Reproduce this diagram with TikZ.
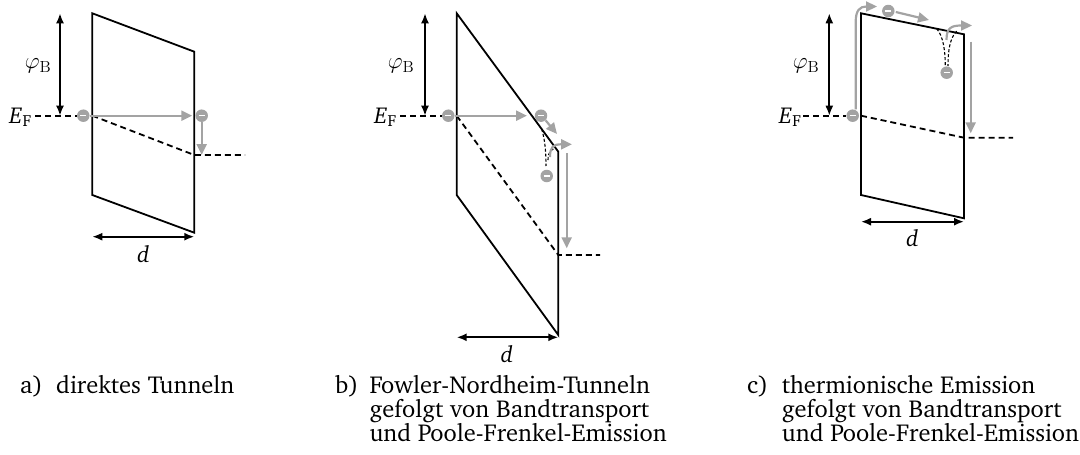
\RequirePackage{fix-cm}
\documentclass[tikz,border=0pt]{standalone}
\usepackage[T1]{fontenc}
\usepackage{charter}
\usetikzlibrary{arrows.meta}
\definecolor{egray}{RGB}{163,163,163}
\tikzset{
  bline/.style={black, line width=1.8pt, line join=miter},
  dline/.style={black, line width=1.8pt, dash pattern=on 6pt off 4pt},
  wline/.style={black, line width=1.1pt, dash pattern=on 3pt off 2pt},
  garrow/.style={egray, line width=2.2pt, -{Triangle[length=11pt,width=10pt]}},
  barrow/.style={black, line width=1.8pt, {Latex[length=10pt,width=8pt]}-{Latex[length=10pt,width=8pt]}},
  electron/.style={circle, fill=egray, minimum size=12.5pt, inner sep=0pt,
    path picture={\draw[white,line width=1.4pt]
      ([xshift=-3pt]path picture bounding box.center) --
      ([xshift=3pt]path picture bounding box.center);}},
  mlabel/.style={inner sep=0pt, font=\fontsize{23}{26}\selectfont},
  caption/.style={inner sep=0pt, anchor=base west, font=\fontsize{24.5}{24}\selectfont},
}
\newcommand{\EFlab}{\textit{E}\kern0.5pt\textsubscript{F}}
\begin{document}
\begin{tikzpicture}[x=1pt,y=-1pt]
\useasboundingbox (0,0) rectangle (1080,455);
% ---------------- panel a ----------------
\coordinate (a1) at (92.3,13.3);
\coordinate (a2) at (194.3,51.7);
\coordinate (a3) at (194.3,232.7);
\coordinate (a4) at (92.3,195);
\coordinate (aF) at (92.3,115.7);
\coordinate (aR) at (194.3,155);
\coordinate (aRe) at (245,155);
\coordinate (aLs) at (35,115.7);
\coordinate (aphT) at (60,13.3);
\coordinate (aphB) at (60,115.7);
\coordinate (adL) at (92.3,236.7);
\coordinate (adR) at (194.3,236.7);
\draw[bline] (a1) -- (a2) -- (a3) -- (a4) -- cycle;
\node[electron] (ea1) at (83.3,115.7) {};
\node[electron] (ea2) at (201.7,115.7) {};
\draw[dline] (aLs) -- (ea1.west);
\draw[dline] (aF) -- (aR) -- (aRe);
\draw[garrow] (ea1.east) -- ([xshift=-3pt]ea2.west);
\draw[garrow] (ea2.south) -- (ea2 |- aR);
\draw[barrow] (aphT) -- (aphB);
\draw[barrow] (adL) -- (adR);
\node[mlabel] (aphi) at (38,66) {$\varphi_{\mathrm{B}}$};
\node[mlabel, anchor=base east] (aEF) at (32,123) {\EFlab};
\node[mlabel, anchor=base] (ad) at (143.3,262) {\textit{d}};
% ---------------- panel b ----------------
\coordinate (b1) at (456.7,13.3);
\coordinate (b2) at (558.3,151.7);
\coordinate (b3) at (558.3,335);
\coordinate (b4) at (456.7,195);
\coordinate (bF) at (456.7,115.7);
\coordinate (bR) at (558.3,255);
\coordinate (bRe) at (600,255);
\coordinate (bLs) at (400,115.7);
\coordinate (bphT) at (425,13.3);
\coordinate (bphB) at (425,115.7);
\coordinate (bdL) at (456.7,337.3);
\coordinate (bdR) at (558.3,337.3);
\coordinate (bw1) at (541.7,129.1);
\coordinate (bw2) at (546,166);
\coordinate (bw3) at (548,160);
\coordinate (bw4) at (556,148.5);
\coordinate (bvT) at (566.7,153);
\coordinate (bvB) at (566.7,248.3);
\coordinate (bgS) at (550,157);
\coordinate (bgE) at (572,144.3);
\coordinate (bsE) at (557,134);
\draw[bline] (b1) -- (b2) -- (b3) -- (b4) -- cycle;
\node[electron] (eb1) at (448.3,115.7) {};
\node[electron] (eb2) at (541,115.7) {};
\node[electron] (eb3) at (546.7,176) {};
\draw[dline] (bLs) -- (eb1.west);
\draw[dline] (bF) -- (bR) -- (bRe);
\draw[garrow] (eb1.east) -- (527,115.7);
\draw[garrow] (eb2.south east) -- (bsE);
\draw[wline] (bw1) .. controls (545,140) and (546,152) .. (bw2);
\draw[wline] (bw3) .. controls (548,152) and (551,149) .. (bw4);
\draw[garrow] (bgS) .. controls (550,147) and (553,144.3) .. (bgE);
\draw[garrow] (bvT) -- (bvB);
\draw[barrow] (bphT) -- (bphB);
\draw[barrow] (bdL) -- (bdR);
\node[mlabel] (bphi) at (401,66) {$\varphi_{\mathrm{B}}$};
\node[mlabel, anchor=base east] (bEF) at (397,123) {\EFlab};
\node[mlabel, anchor=base] (bd) at (507,362.7) {\textit{d}};
% ---------------- panel c ----------------
\coordinate (c1) at (861,13.3);
\coordinate (c2) at (964,34.3);
\coordinate (c3) at (964,218.3);
\coordinate (c4) at (861,195);
\coordinate (cF) at (861,115.7);
\coordinate (cR) at (964,137.7);
\coordinate (cRe) at (1013,137.7);
\coordinate (cLs) at (803,115.7);
\coordinate (cphT) at (829.3,13.3);
\coordinate (cphB) at (829.3,115.7);
\coordinate (cdL) at (861,221.7);
\coordinate (cdR) at (964,221.7);
\coordinate (cw1) at (936.7,28.7);
\coordinate (cw2) at (945.3,66);
\coordinate (cw3) at (956.7,31.1);
\coordinate (cw4) at (948,66);
\coordinate (cuT) at (877,6.5);
\coordinate (cvT) at (970.7,41.7);
\coordinate (cvB) at (970.7,133.3);
\coordinate (ctE) at (929,20);
\coordinate (cgS) at (946.5,40);
\coordinate (cgE) at (972,25.5);
\draw[bline] (c1) -- (c2) -- (c3) -- (c4) -- cycle;
\node[electron] (ec1) at (852.7,115.7) {};
\node[electron] (ec2) at (888.3,11) {};
\node[electron] (ec3) at (946.7,72.7) {};
\draw[dline] (cLs) -- (ec1.west);
\draw[dline] (cF) -- (cR) -- (cRe);
\draw[garrow] ([xshift=3pt]ec1.north) -- (855.7,22) .. controls (855.7,10) and (860,6.5) .. (cuT);
\draw[garrow] ([xshift=1pt,yshift=-1pt]ec2.east) -- (ctE);
\draw[wline] (cw1) .. controls (943,36) and (945.3,50) .. (cw2);
\draw[wline] (cw3) .. controls (950,38) and (948,50) .. (cw4);
\draw[garrow] (cgS) .. controls (946.5,28) and (951,25.5) .. (cgE);
\draw[garrow] (cvT) -- (cvB);
\draw[barrow] (cphT) -- (cphB);
\draw[barrow] (cdL) -- (cdR);
\node[mlabel] (cphi) at (806,66) {$\varphi_{\mathrm{B}}$};
\node[mlabel, anchor=base east] (cEF) at (801.7,123) {\EFlab};
\node[mlabel, anchor=base] (cd) at (912.5,246.7) {\textit{d}};
% ---------------- captions ----------------
\node[caption] (la) at (20,393) {a)};
\node[caption] (ta1) at (56,393) {direktes Tunneln};
\node[caption] (lb) at (335,393) {b)};
\node[caption] (tb1) at (369.3,393) {Fowler-Nordheim-Tunneln};
\node[caption] (tb2) at (369.3,417) {gefolgt von Bandtransport};
\node[caption] (tb3) at (369.3,441) {und Poole-Frenkel-Emission};
\node[caption] (lc) at (747,393) {c)};
\node[caption] (tc1) at (781.7,393) {thermionische Emission};
\node[caption] (tc2) at (781.7,417) {gefolgt von Bandtransport};
\node[caption] (tc3) at (781.7,441) {und Poole-Frenkel-Emission};
\end{tikzpicture}
\end{document}
